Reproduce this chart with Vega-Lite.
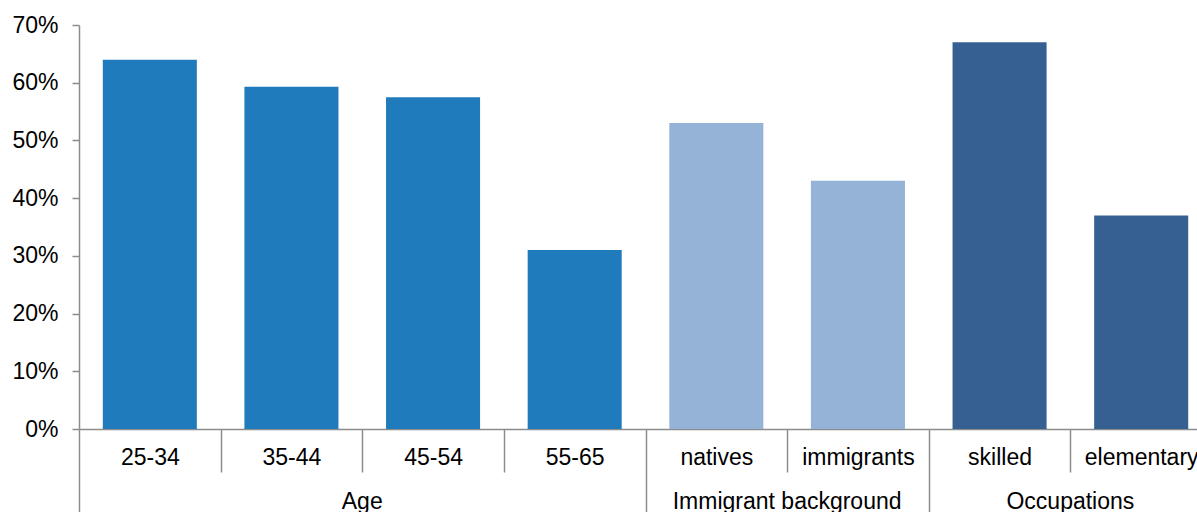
{
  "$schema": "https://vega.github.io/schema/vega-lite/v6.json",
  "autosize": {"type": "none"},
  "padding": {"left": 79, "top": 25, "right": -15, "bottom": 83},
  "width": 1133,
  "height": 404,
  "background": "white",
  "config": {"view": {"stroke": null}, "font": "Liberation Sans"},
  "data": {"values": [
    {"category": "25-34", "group": "Age", "share": 0.64},
    {"category": "35-44", "group": "Age", "share": 0.593},
    {"category": "45-54", "group": "Age", "share": 0.575},
    {"category": "55-65", "group": "Age", "share": 0.31},
    {"category": "natives", "group": "Immigrant background", "share": 0.53},
    {"category": "immigrants", "group": "Immigrant background", "share": 0.43},
    {"category": "skilled", "group": "Occupations", "share": 0.67},
    {"category": "elementary", "group": "Occupations", "share": 0.37}
  ]},
  "layer": [
    {
      "mark": {"type": "bar", "width": {"band": 0.664}},
      "encoding": {
        "x": {
          "field": "category", "type": "nominal",
          "sort": ["25-34", "35-44", "45-54", "55-65", "natives", "immigrants", "skilled", "elementary"],
          "scale": {"paddingInner": 0, "paddingOuter": 0},
          "axis": {
            "title": null, "labelAngle": 0, "labelFont": "Liberation Sans", "labelFontSize": 23,
            "labelColor": "black", "tickBand": "extent",
            "labelPadding": {"condition": {"test": "datum.extra || indexof(['55-65','immigrants','elementary'], datum.value) >= 0", "value": -66}, "value": -26},
            "tickColor": "#8c8c8c", "tickWidth": 1.5, "domainColor": "#8c8c8c", "domainWidth": 1.5,
            "tickSize": {"condition": {"test": "datum.extra || indexof(['55-65','immigrants','elementary'], datum.value) >= 0", "value": 83}, "value": 43}
          }
        },
        "y": {
          "field": "share", "type": "quantitative",
          "scale": {"domain": [0, 0.7], "nice": false},
          "axis": {
            "title": null, "grid": false, "values": [0, 0.1, 0.2, 0.3, 0.4, 0.5, 0.6, 0.7],
            "format": ".0%", "labelFont": "Liberation Sans", "labelFontSize": 23, "labelColor": "black",
            "labelPadding": 14, "tickSize": 7, "tickColor": "#8c8c8c", "tickWidth": 1.5,
            "domainColor": "#8c8c8c", "domainWidth": 1.5
          }
        },
        "color": {
          "field": "group", "type": "nominal",
          "scale": {"domain": ["Age", "Immigrant background", "Occupations"], "range": ["#1f7bbc", "#95b3d7", "#366092"]},
          "legend": null
        }
      }
    },
    {
      "transform": [
        {"window": [{"op": "row_number", "as": "rank"}, {"op": "count", "as": "n"}], "groupby": ["group"], "frame": [null, null]},
        {"filter": "datum.rank == datum.n / 2 + 1"}
      ],
      "mark": {"type": "text", "dy": 73, "fontSize": 23, "font": "Liberation Sans", "color": "black", "baseline": "middle"},
      "encoding": {
        "x": {
          "field": "category", "type": "nominal",
          "sort": ["25-34", "35-44", "45-54", "55-65", "natives", "immigrants", "skilled", "elementary"],
          "bandPosition": 0
        },
        "y": {"datum": 0, "type": "quantitative"},
        "text": {"field": "group"}
      }
    }
  ]
}
